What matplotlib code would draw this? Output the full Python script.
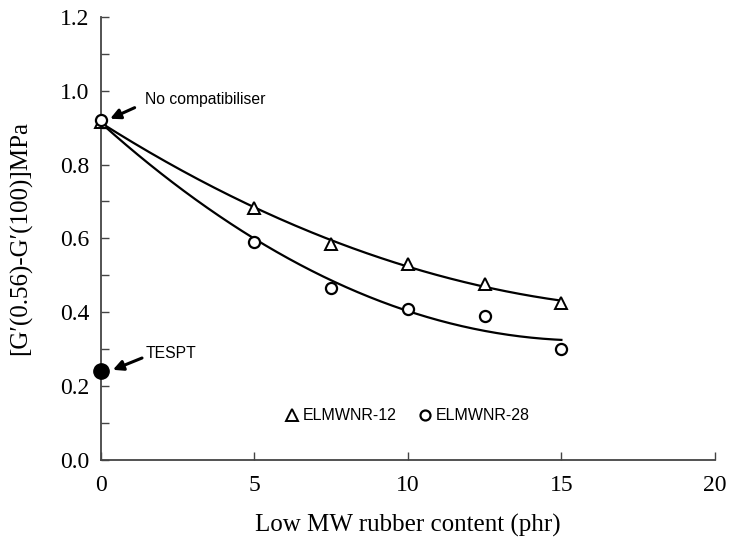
import numpy as np
import matplotlib
matplotlib.use("Agg")
import matplotlib.pyplot as plt
from matplotlib.ticker import MultipleLocator

# Data
x_vals = [0, 5, 7.5, 10, 12.5, 15]
elmwnr12 = [0.915, 0.683, 0.585, 0.531, 0.477, 0.425]
elmwnr28 = [0.920, 0.590, 0.466, 0.410, 0.390, 0.300]
tespt_x = [0]
tespt_y = [0.240]
series_labels = ["ELMWNR-12", "ELMWNR-28"]
x_ticks = [0, 5, 10, 15, 20]
y_ticks = [0.0, 0.2, 0.4, 0.6, 0.8, 1.0, 1.2]

serif = ["Liberation Serif", "DejaVu Serif"]
sans = ["Liberation Sans", "DejaVu Sans"]

fig = plt.figure(figsize=(7.31, 5.43), dpi=100)
ax = fig.add_axes([0.138, 0.153, 0.840, 0.816])

axis_col = "#444444"

# fitted trend curves
xs = np.linspace(0, 15, 200)
for ys in (elmwnr12, elmwnr28):
    c = np.polyfit(x_vals, ys, 2)
    ax.plot(xs, np.polyval(c, xs), color="black", lw=1.6, zorder=2)

ax.plot(x_vals, elmwnr12, linestyle="none", marker="^", ms=9, mfc="white",
        mec="black", mew=1.4, clip_on=False, zorder=3, label=series_labels[0])
ax.plot(x_vals, elmwnr28, linestyle="none", marker="o", ms=8, mfc="white",
        mec="black", mew=1.6, clip_on=False, zorder=3, label=series_labels[1])
ax.plot(tespt_x, tespt_y, linestyle="none", marker="o", ms=11, color="black",
        clip_on=False, zorder=4)

ax.set_xlim(0, 20)
ax.set_ylim(0, 1.2)
ax.set_xticks(x_ticks)
ax.set_yticks(y_ticks)
ax.yaxis.set_minor_locator(MultipleLocator(0.1))
ax.set_xticklabels([str(t) for t in x_ticks], family=serif, fontsize=17)
ax.set_yticklabels([f"{t:.1f}" for t in y_ticks], family=serif, fontsize=17)

for s in ("top", "right"):
    ax.spines[s].set_visible(False)
for s in ("left", "bottom"):
    ax.spines[s].set_color(axis_col)
    ax.spines[s].set_linewidth(1.3)
ax.tick_params(which="both", direction="in", color=axis_col, width=1.0)
ax.tick_params(which="major", length=6)
ax.tick_params(which="minor", length=6)
ax.tick_params(axis="y", pad=8)
ax.tick_params(axis="x", pad=11)

ax.set_xlabel("Low MW rubber content (phr)", family=serif, fontsize=18, labelpad=13)
ax.set_ylabel("[G\u2032(0.56)-G\u2032(100)]MPa", family=serif, fontsize=18, labelpad=20)

arrow = dict(arrowstyle="-|>,head_length=0.6,head_width=0.3",
             color="black", lw=2.2, shrinkA=0, shrinkB=0)
ax.annotate("", xy=(0.3, 0.924), xytext=(1.1, 0.954), arrowprops=arrow)
ax.text(1.45, 0.975, "No compatibiliser", family=sans, fontsize=11.3,
        va="center", ha="left")
ax.annotate("", xy=(0.39, 0.244), xytext=(1.34, 0.276), arrowprops=arrow)
ax.text(1.47, 0.287, "TESPT", family=sans, fontsize=11.3,
        va="center", ha="left")

leg = ax.legend(loc="center left", bbox_to_anchor=(0.281, 0.100), ncol=2,
                frameon=False, handlelength=0.5, handletextpad=0.45,
                columnspacing=1.5, markerscale=0.9,
                prop={"family": sans, "size": 11.5})

fig.savefig("out.png", dpi=100)
